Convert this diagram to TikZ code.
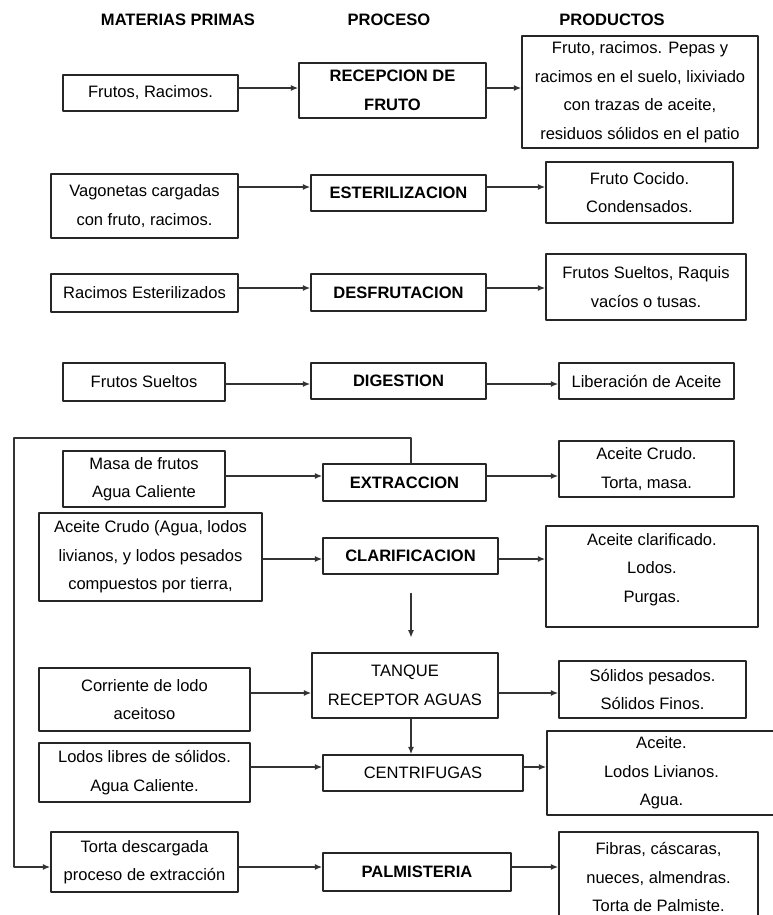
\documentclass[tikz,border=0pt]{standalone}
\usepackage{fontspec}
\setmainfont{Liberation Sans}
\usetikzlibrary{arrows.meta}

\tikzset{
  caja/.style n args={2}{
    draw=black!85,
    line width=1.2pt,
    minimum width=#1*0.75pt,
    minimum height=#2*0.75pt,
    inner sep=0pt,
    align=center,
    font=\fontsize{12.4}{21.4}\selectfont
  },
  flecha/.style={
    line width=1pt,
    draw=black!80,
    -{Latex[length=5.5pt,width=4.5pt]}
  },
  titulo/.style={font=\fontsize{12.4}{15}\selectfont\bfseries}
}

\begin{document}
\begin{tikzpicture}[
  x=0.75pt,
  y=-0.75pt,
  line cap=round,
  line join=round
]
  \useasboundingbox (0,0) rectangle (773,915);

  % Encabezados
  \node[titulo] (mp) at (178,20) {MATERIAS PRIMAS};
  \node[titulo] (pr) at (389,20) {PROCESO};
  \node[titulo] (pd) at (612,20) {PRODUCTOS};

  % Materias primas
  \node[caja={175}{36}] (e1) at (150.5,93) {Frutos, Racimos.};
  \node[caja={187}{64}] (e2) at (144.5,206) {Vagonetas cargadas\\con fruto, racimos.};
  \node[caja={187}{38}] (e3) at (144.5,293) {Racimos Esterilizados};
  \node[caja={162}{38}] (e4) at (144,382) {Frutos Sueltos};
  \node[caja={162}{56}] (e5) at (144,479) {Masa de frutos\\Agua Caliente};
  \node[caja={223}{88}] (e6) at (150.5,557)
    {Aceite Crudo (Agua, lodos\\livianos, y lodos pesados\\compuestos por tierra,};
  \node[caja={211}{63}] (e7) at (144.5,699.5) {Corriente de lodo\\aceitoso};
  \node[caja={211}{59}] (e8) at (144.5,772.5) {Lodos libres de sólidos.\\Agua Caliente.};
  \node[caja={187}{60}] (e9) at (144.5,862) {Torta descargada\\proceso de extracción};

  % Proceso
  \node[caja={187}{55},font=\fontsize{12.4}{21.4}\selectfont\bfseries] (p1) at (392.5,90.5) {RECEPCION DE\\FRUTO};
  \node[caja={175}{36},font=\fontsize{12.4}{21.4}\selectfont\bfseries] (p2) at (398.5,193) {ESTERILIZACION};
  \node[caja={175}{37},font=\fontsize{12.4}{21.4}\selectfont\bfseries] (p3) at (398.5,292.5) {DESFRUTACION};
  \node[caja={175}{36},font=\fontsize{12.4}{21.4}\selectfont\bfseries] (p4) at (398.5,381) {DIGESTION};
  \node[caja={163}{37},font=\fontsize{12.4}{21.4}\selectfont\bfseries] (p5) at (404.5,482.5) {EXTRACCION};
  \node[caja={175}{36},font=\fontsize{12.4}{21.4}\selectfont\bfseries] (p6) at (410.5,556) {CLARIFICACION};
  \node[caja={186}{65}] (p7) at (405,685.5) {TANQUE\\RECEPTOR AGUAS};
  \node[caja={200}{36}] (p8) at (423,773) {CENTRIFUGAS};
  \node[caja={188}{38},font=\fontsize{12.4}{21.4}\selectfont\bfseries] (p9) at (417,872) {PALMISTERIA};

  % Productos
  \node[caja={236}{112}] (s1) at (640,92)
    {Fruto, racimos. Pepas y\\racimos en el suelo, lixiviado\\con trazas de aceite,\\residuos sólidos en el patio};
  \node[caja={187}{61}] (s2) at (639.5,192.5) {Fruto Cocido.\\Condensados.};
  \node[caja={200}{66}] (s3) at (646,287) {Frutos Sueltos, Raquis\\vacíos o tusas.};
  \node[caja={175}{36}] (s4) at (646.5,381) {Liberación de Aceite};
  \node[caja={175}{56}] (s5) at (646.5,469) {Aceite Crudo.\\Torta, masa.};
  \node[caja={212}{101}] (s6) at (652,576.5) {Aceite clarificado.\\Lodos.\\Purgas.\\[-8pt]};
  \node[caja={187}{57}] (s7) at (652.5,689.5) {Sólidos pesados.\\Sólidos Finos.};
  \node[caja={229}{84}] (s8) at (661.5,773) {Aceite.\\Lodos Livianos.\\Agua.};
  \node[caja={199}{90}] (s9) at (658.5,877) {Fibras, cáscaras,\\nueces, almendras.\\Torta de Palmiste.};

  % Flechas horizontales
  \foreach \n/\y in {1/88,2/187,3/288,4/384,5/476,6/559,7/693,8/767,9/867}{
    \draw[flecha] (e\n.east |- 0,\y) -- (p\n.west |- 0,\y);
    \draw[flecha] (p\n.east |- 0,\y) -- (s\n.west |- 0,\y);
  }

  % Flechas verticales
  \coordinate (v) at (411,0);
  \draw[flecha,shorten <=14pt,shorten >=11pt] (v |- p6.south) -- (v |- p7.north);
  \draw[flecha] (v |- p7.south) -- (v |- p8.north);

  % Retorno de torta
  \coordinate (r0) at (411,438);
  \coordinate (r1) at (14,438);
  \draw[flecha] (r0 |- p5.north) -- (r0) -- (r1) -- (r1 |- 0,867) -- (e9.west |- 0,867);
\end{tikzpicture}
\end{document}
